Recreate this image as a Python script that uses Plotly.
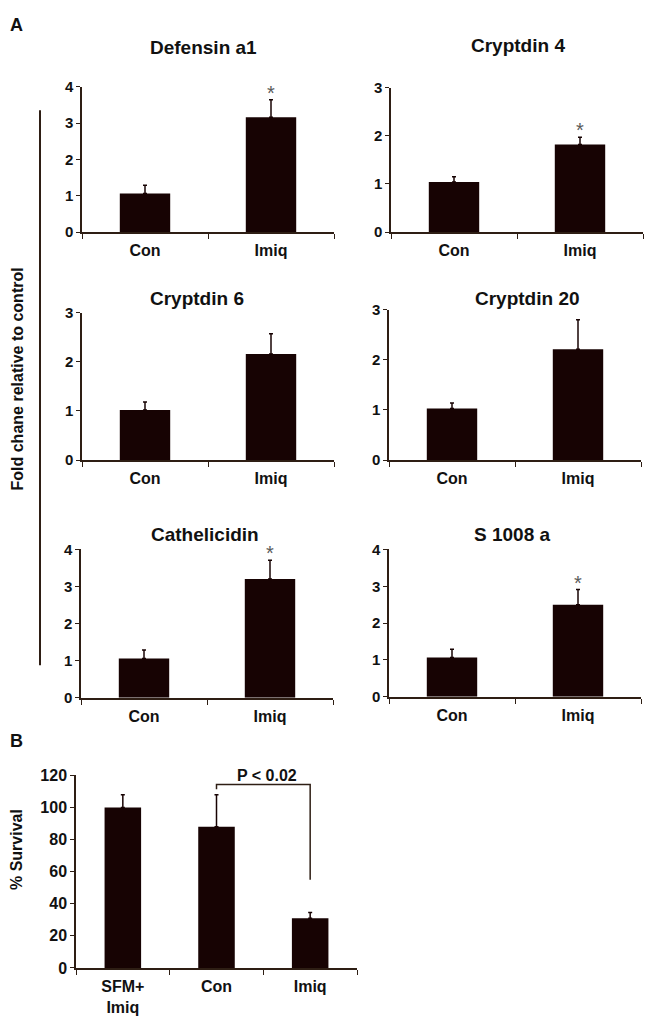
import plotly.graph_objects as go

W, H = 655, 1020

# ---------------- data ----------------
groups = ["Con", "Imiq"]
panel_titles = ["Defensin a1", "Cryptdin 4", "Cryptdin 6", "Cryptdin 20", "Cathelicidin", "S 1008 a"]
panel_means = [[1.06, 3.16], [1.04, 1.82], [1.02, 2.16], [1.03, 2.21], [1.06, 3.20], [1.07, 2.50]]
panel_errs = [[0.23, 0.48], [0.11, 0.15], [0.16, 0.41], [0.11, 0.59], [0.23, 0.51], [0.22, 0.41]]
panel_ymax = [4, 3, 3, 3, 4, 4]
panel_sig = [[False, True], [False, True], [False, False], [False, False], [False, True], [False, True]]

b_groups = ["SFM+<br>Imiq", "Con", "Imiq"]
b_means = [100, 88, 31]
b_errs = [8, 20, 3.5]
b_ymax = 120
b_bracket_groups = ["Con", "Con", "Imiq", "Imiq"]
b_bracket_y = [111.4, 114.3, 114.3, 55]
b_pvalue = "P < 0.02"

# ---------------- style / layout (pixels, as seen in the page) ----------------
BAR = "#170303"
AX = "#2e1e14"
TXT = "#111111"
FONT = "Liberation Sans"
OFF = 8  # page body margin shifts the plot by 8px right and down

# [x0, x1, ytop, ybottom] in pixels
panel_boxes = [
    [82, 334, 79, 227],
    [391, 643, 80, 227],
    [82, 334, 309, 459],
    [389, 641, 306, 459],
    [81, 333, 550, 701],
    [389, 641, 550, 700],
]
title_pos = [(203, 39), (518, 37), (197, 295), (527, 295), (205, 535), (512, 535)]
b_box = [76, 357, 780, 976]


def px_x(x):
    return (x - OFF) / W


def px_y(y):
    return 1 - (y - OFF) / H


fig = go.Figure()
layout = dict(
    width=W, height=H,
    margin=dict(l=0, r=0, t=0, b=0),
    paper_bgcolor="white", plot_bgcolor="white",
    showlegend=False,
    font=dict(family=FONT, color=TXT),
)
annotations = []
shapes = []


def axis_pair(idx, box, ymax, dtick, cats, xfont, yfont):
    x0, x1, yt, yb = box
    sfx = "" if idx == 1 else str(idx)
    xa = dict(
        domain=[px_x(x0), px_x(x1)],
        type="category",
        categoryorder="array", categoryarray=cats,
        range=[-0.5, len(cats) - 0.5],
        showline=True, linecolor=AX, linewidth=1.5,
        ticks="outside", tickson="boundaries", ticklen=5, tickwidth=1.2, tickcolor=AX,
        ticklabelstandoff=3,
        tickfont=dict(size=xfont, family=FONT, weight="bold", color=TXT),
        showgrid=False, zeroline=False, fixedrange=True,
        anchor="y" + sfx,
    )
    ya = dict(
        domain=[px_y(yb), px_y(yt)],
        range=[0, ymax], dtick=dtick, tick0=0,
        showline=True, linecolor=AX, linewidth=1.5,
        ticks="outside", ticklen=4, tickwidth=1.2, tickcolor=AX,
        tickfont=dict(size=yfont, family=FONT, weight="bold", color=TXT),
        showgrid=False, zeroline=False, fixedrange=True,
        anchor="x" + sfx,
    )
    layout["xaxis" + sfx] = xa
    layout["yaxis" + sfx] = ya
    return "x" + sfx, "y" + sfx


for i in range(6):
    idx = i + 1
    xr, yr = axis_pair(idx, panel_boxes[i], panel_ymax[i], 1, groups, 16, 15)
    fig.add_trace(go.Bar(
        x=groups, y=panel_means[i], xaxis=xr, yaxis=yr,
        width=0.4, marker=dict(color=BAR, line=dict(width=0)),
        error_y=dict(type="data", symmetric=False, array=panel_errs[i],
                     arrayminus=[0] * len(groups), color=BAR, thickness=1.5, width=2),
        hoverinfo="skip",
    ))
    tx, ty = title_pos[i]
    annotations.append(dict(
        text=panel_titles[i], xref="paper", yref="paper", x=px_x(tx), y=px_y(ty),
        xanchor="center", yanchor="middle", showarrow=False,
        font=dict(size=19, family=FONT, weight="bold", color=TXT),
    ))
    for g, m, e, s in zip(groups, panel_means[i], panel_errs[i], panel_sig[i]):
        if s:
            annotations.append(dict(
                text="*", xref=xr, yref=yr, x=g, y=m + e,
                xanchor="center", yanchor="bottom", yshift=-6, showarrow=False,
                font=dict(size=20, family=FONT, color="#5a5a5a"),
            ))

# Panel B
xr, yr = axis_pair(7, b_box, b_ymax, 20, b_groups, 16, 16)
fig.add_trace(go.Bar(
    x=b_groups, y=b_means, xaxis=xr, yaxis=yr,
    width=0.39, marker=dict(color=BAR, line=dict(width=0)),
    error_y=dict(type="data", symmetric=False, array=b_errs,
                 arrayminus=[0] * len(b_groups), color=BAR, thickness=1.5, width=2),
    hoverinfo="skip",
))
fig.add_trace(go.Scatter(
    x=b_bracket_groups, y=b_bracket_y, xaxis=xr, yaxis=yr,
    mode="lines", line=dict(color=AX, width=1.5), hoverinfo="skip",
))
annotations.append(dict(
    text=b_pvalue, xref="paper", yref="paper", x=px_x(267), y=px_y(780),
    xanchor="center", yanchor="middle", showarrow=False,
    font=dict(size=16, family=FONT, weight="bold", color=TXT),
))

# axis titles and panel letters
annotations.append(dict(
    text="Fold chane relative to control", xref="paper", yref="paper",
    x=px_x(17), y=px_y(377), xanchor="center", yanchor="middle", textangle=-90,
    showarrow=False, font=dict(size=16, family=FONT, weight="bold", color=TXT),
))
annotations.append(dict(
    text="% Survival", xref="paper", yref="paper",
    x=px_x(16), y=px_y(856), xanchor="center", yanchor="middle", textangle=-90,
    showarrow=False, font=dict(size=16, family=FONT, weight="bold", color=TXT),
))
annotations.append(dict(
    text="A", xref="paper", yref="paper", x=px_x(16), y=px_y(16),
    xanchor="center", yanchor="middle", showarrow=False,
    font=dict(size=18, family=FONT, weight="bold", color=TXT),
))
annotations.append(dict(
    text="B", xref="paper", yref="paper", x=px_x(16), y=px_y(745),
    xanchor="center", yanchor="middle", showarrow=False,
    font=dict(size=18, family=FONT, weight="bold", color=TXT),
))

# long vertical bar grouping panel A
shapes.append(dict(
    type="line", xref="paper", yref="paper",
    x0=px_x(40), x1=px_x(40), y0=px_y(103), y1=px_y(668),
    line=dict(color=AX, width=2),
))

layout["annotations"] = annotations
layout["shapes"] = shapes
fig.update_layout(**layout)
fig.write_html("out.html")
